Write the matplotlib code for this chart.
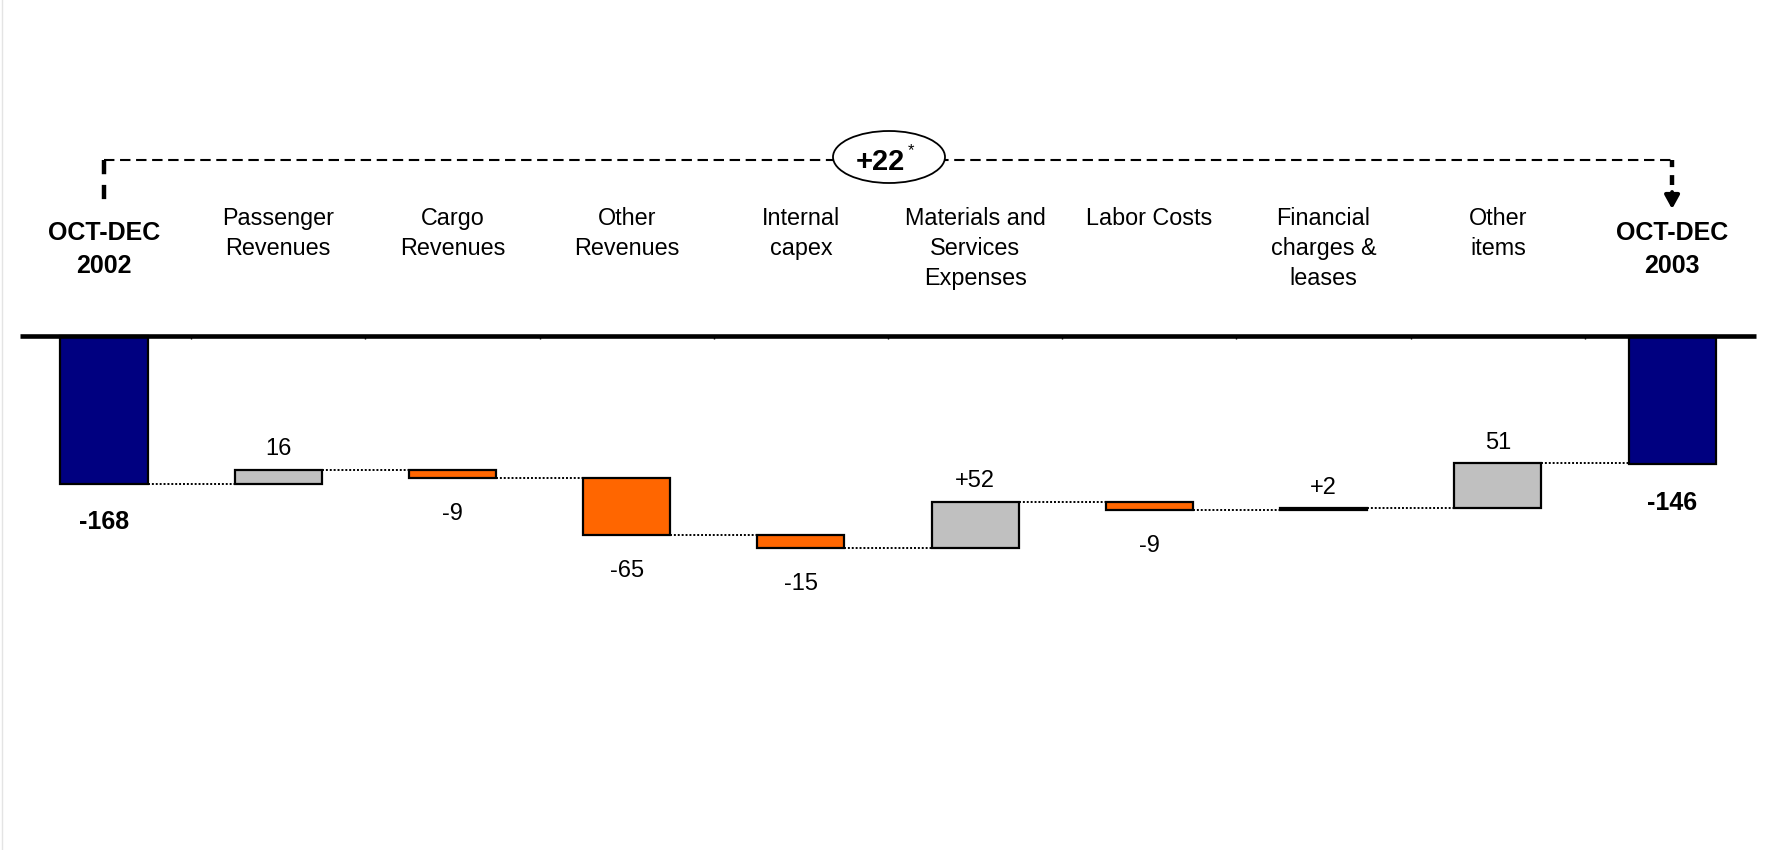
import numpy as np
import matplotlib
matplotlib.use("Agg")
import matplotlib.pyplot as plt
from matplotlib.patches import Ellipse
from matplotlib.lines import Line2D

plt.rcParams['font.family'] = ['Liberation Sans', 'DejaVu Sans']

# data
categories = ["OCT-DEC\n2002", "Passenger\nRevenues", "Cargo\nRevenues", "Other\nRevenues",
              "Internal\ncapex", "Materials and\nServices\nExpenses", "Labor Costs",
              "Financial\ncharges &\nleases", "Other\nitems", "OCT-DEC\n2003"]
start_total = -168
end_total = -146
deltas = [16, -9, -65, -15, 52, -9, 2, 51]
delta_labels = ["16", "-9", "-65", "-15", "+52", "-9", "+2", "51"]
total_labels = ["-168", "-146"]
change_label = "+22"

navy = "#000080"
grey = "#C0C0C0"
orange = "#FF6600"

W, H = 1778, 850
fig = plt.figure(figsize=(W / 100, H / 100), dpi=100)
ax = fig.add_axes([0, 0, 1, 1])
ax.axis('off')

# waterfall levels
levels = np.concatenate([[start_total], start_total + np.cumsum(deltas)])
bw = 0.5

ax.bar(0, start_total, width=bw, color=navy, edgecolor='black', linewidth=1.6, zorder=2)
for i, d in enumerate(deltas):
    ax.bar(i + 1, d, bottom=levels[i], width=bw, color=grey if d > 0 else orange,
           edgecolor='black', linewidth=1.6, zorder=2)
ax.bar(9, end_total, width=bw, color=navy, edgecolor='black', linewidth=1.6, zorder=2)

# dotted connectors
for i in range(9):
    ax.plot([i + bw / 2, i + 1 - bw / 2], [levels[i], levels[i]], color='black',
            lw=1.4, ls=(0, (1, 1)), zorder=1)

# value labels
ax.annotate(total_labels[0], (0, start_total), xytext=(0, -19), textcoords='offset points',
            ha='center', va='top', fontsize=18, fontweight='bold')
ax.annotate(total_labels[1], (9, end_total), xytext=(0, -19), textcoords='offset points',
            ha='center', va='top', fontsize=18, fontweight='bold')
for i, (d, lab) in enumerate(zip(deltas, delta_labels)):
    if d > 0:
        ax.annotate(lab, (i + 1, levels[i + 1]), xytext=(0, 7), textcoords='offset points',
                    ha='center', va='bottom', fontsize=17)
    else:
        ax.annotate(lab, (i + 1, levels[i + 1]), xytext=(0, -18), textcoords='offset points',
                    ha='center', va='top', fontsize=17)

# baseline and small ticks
ax.plot([-0.48, 9.48], [0, 0], color='black', lw=3.3, solid_capstyle='butt', zorder=3)
ax.vlines(np.arange(9) + 0.5, -3.5, 0, color='black', lw=1, zorder=3)

# category labels
trans = ax.get_xaxis_transform()
for i, lab in enumerate(categories):
    if i in (0, 9):
        ax.text(i, 1 - 221 / H, lab, transform=trans, ha='center', va='top',
                fontsize=18, fontweight='bold', linespacing=1.45)
    else:
        ax.text(i, 1 - 207 / H, lab, transform=trans, ha='center', va='top',
                fontsize=16.8, linespacing=1.4)

# bracket with the overall change
y_line = 1 - 160 / H
ax.plot([0, 9], [y_line, y_line], transform=trans, color='black', lw=1.5,
        ls=(0, (5, 2.7)), clip_on=False)
ax.plot([0, 0], [y_line, 1 - 208 / H], transform=trans, color='black', lw=3.2,
        ls=(0, (3.2, 2.4)), clip_on=False)
ax.plot([9, 9], [y_line, 1 - 185 / H], transform=trans, color='black', lw=3.2,
        ls=(0, (1.6, 1.8, 5.0, 2.5)), clip_on=False)
ax.annotate('', xy=(9, 1 - 209 / H), xytext=(9, 1 - 192 / H), xycoords=trans,
            textcoords=trans,
            arrowprops=dict(arrowstyle='-|>,head_width=0.22,head_length=0.4',
                            mutation_scale=20, lw=2.8, color='black',
                            shrinkA=0, shrinkB=0))

ax.set_xlim(-0.597, 9.608)
ax.set_ylim(-583.3, 380.4)

ell = Ellipse((889 / W, 1 - 157 / H), 112 / W, 52 / H, transform=fig.transFigure,
              facecolor='white', edgecolor='black', lw=1.3, zorder=5)
fig.add_artist(ell)
fig.text(880 / W, 1 - 162 / H, change_label, ha='center', va='center', fontsize=21,
         fontweight='bold', zorder=6)
fig.text(911 / W, 1 - 151 / H, "*", ha='center', va='center', fontsize=12, zorder=6)

# faint slide border on the left
fig.add_artist(Line2D([2 / W, 2 / W], [0, 1], transform=fig.transFigure,
                      color='#e4e4e4', lw=1))

fig.savefig("out.png", dpi=100)
